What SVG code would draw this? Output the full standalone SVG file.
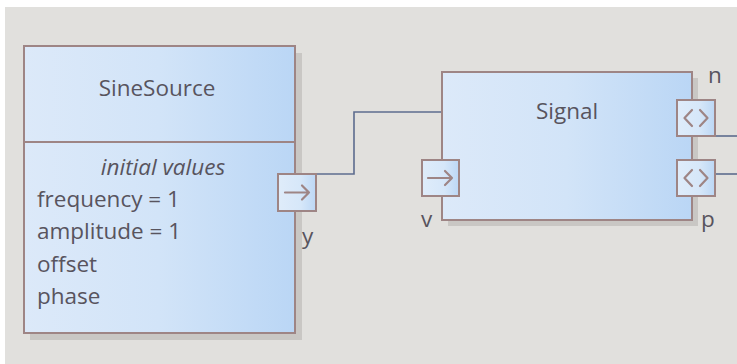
<svg xmlns="http://www.w3.org/2000/svg" width="737" height="364" viewBox="0 0 737 364">
<defs>
<linearGradient id="bg" x1="0" y1="0" x2="1" y2="0">
<stop offset="0" stop-color="#dce9f9"/>
<stop offset="0.5" stop-color="#d2e4f8"/>
<stop offset="1" stop-color="#bad6f5"/>
</linearGradient>
<linearGradient id="pg" x1="0" y1="0" x2="1" y2="0">
<stop offset="0" stop-color="#dfecfa"/>
<stop offset="0.6" stop-color="#d6e7f9"/>
<stop offset="1" stop-color="#bcd7f5"/>
</linearGradient>
</defs>
<style>
.box{fill:url(#bg);stroke:#9e8585;stroke-width:2}
.port{fill:url(#pg);stroke:#9e8585;stroke-width:2}
.shadow{fill:#c9c7c4}
.icon{fill:none;stroke:#9e8585;stroke-width:2.2;stroke-linecap:round;stroke-linejoin:round}
.t{font-family:"Open Sans","Noto Sans","DejaVu Sans",sans-serif;font-size:22.5px;fill:#58545e}
.c{text-anchor:middle}
.wire{fill:none;stroke:#5d6c8e;stroke-width:1.6}
</style>
<rect width="737" height="364" fill="#ffffff"/>
<rect x="5" y="7" width="732" height="357" fill="#e1e0dd"/>

<g id="connectors">
<path class="wire" d="M316,174 H354 V112 H443"/>
<path class="wire" d="M715,136 H737"/>
<path class="wire" d="M715,174 H737"/>
</g>

<g id="SineSource">
<rect class="shadow" x="30" y="53" width="272" height="287"/>
<rect class="box" x="24" y="46" width="271" height="287"/>
<line x1="24" y1="142" x2="295" y2="142" stroke="#9e8585" stroke-width="2"/>
<text class="t c" x="157" y="96">SineSource</text>
<text class="t c" x="163" y="175" font-style="italic">initial values</text>
<text class="t" x="37" y="207">frequency = 1</text>
<text class="t" x="37" y="239">amplitude = 1</text>
<text class="t" x="37" y="272">offset</text>
<text class="t" x="37" y="304">phase</text>
</g>

<g id="port-y">
<rect class="port" x="278" y="174" width="38" height="37"/>
<path class="icon" d="M285,192.5 H309 M302,185.5 L309,192.5 L302,199.5"/>
<text class="t" x="302" y="244">y</text>
</g>

<g id="Signal">
<rect class="shadow" x="448" y="78" width="250" height="148"/>
<rect class="box" x="442" y="72" width="250" height="148"/>
<text class="t c" x="567" y="119">Signal</text>
</g>

<g id="port-v">
<rect class="port" x="422" y="160" width="37" height="36"/>
<path class="icon" d="M428,178 H452 M445,171 L452,178 L445,185"/>
<text class="t" x="421" y="227">v</text>
</g>

<g id="port-n">
<rect class="port" x="677" y="100" width="38" height="36"/>
<path class="icon" d="M692,110 L684.5,118 L692,126 M700,110 L707.5,118 L700,126"/>
<text class="t" x="708" y="83">n</text>
</g>

<g id="port-p">
<rect class="port" x="677" y="160" width="38" height="36"/>
<path class="icon" d="M692,170 L684.5,178 L692,186 M700,170 L707.5,178 L700,186"/>
<text class="t" x="701" y="227">p</text>
</g>
</svg>
